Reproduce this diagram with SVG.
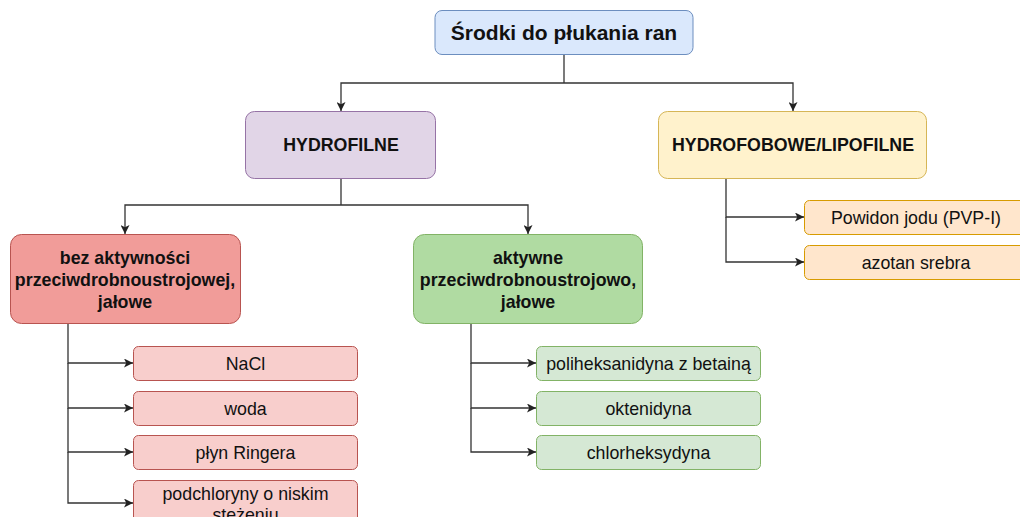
<svg xmlns="http://www.w3.org/2000/svg" width="1020" height="517" viewBox="0 0 1020 517">
  <defs>
    <marker id="arrow" viewBox="0 0 10 10" refX="10" refY="5" markerWidth="9" markerHeight="9" markerUnits="userSpaceOnUse" orient="auto">
      <path d="M0,0 L10,5 L0,10 L2.5,5 Z" fill="#222"/>
    </marker>
    <style>
      text { font-family: "Liberation Sans", Arial, Helvetica, sans-serif; fill: #111; text-anchor: middle; }
      .title { font-size: 21px; font-weight: bold; }
      .head { font-size: 17.8px; font-weight: bold; }
      .item { font-size: 17.8px; }
      .edge { fill: none; stroke: #333; stroke-width: 1.3; }
      .arr { marker-end: url(#arrow); }
      .blue { fill: #dae8fc; stroke: #6c8ebf; }
      .purple { fill: #e1d5e7; stroke: #9673a6; }
      .yellow { fill: #fff2cc; stroke: #d6b656; }
      .red { fill: #f19c99; stroke: #b85450; }
      .green { fill: #b0dba2; stroke: #82b366; }
      .pink { fill: #f8cecc; stroke: #b85450; }
      .lgreen { fill: #d5e8d4; stroke: #82b366; }
      .orange { fill: #ffe6cc; stroke: #d79b00; }
      rect { stroke-width: 1; }
    </style>
  </defs>

  <!-- connectors -->
  <g id="edges">
    <path class="edge" d="M564,54 V83"/>
    <path class="edge arr" d="M564,83 H341 V111"/>
    <path class="edge arr" d="M564,83 H793 V111"/>

    <path class="edge" d="M341,178 V205"/>
    <path class="edge arr" d="M341,205 H125 V234"/>
    <path class="edge arr" d="M341,205 H528 V234"/>

    <path class="edge arr" d="M726,178 V217 H804"/>
    <path class="edge arr" d="M726,217 V262 H804"/>

    <path class="edge arr" d="M68,323 V363 H133"/>
    <path class="edge arr" d="M68,363 V408 H133"/>
    <path class="edge arr" d="M68,408 V452 H133"/>
    <path class="edge arr" d="M68,452 V503 H133"/>

    <path class="edge arr" d="M471,323 V363 H536"/>
    <path class="edge arr" d="M471,363 V408 H536"/>
    <path class="edge arr" d="M471,408 V452 H536"/>
  </g>

  <!-- root -->
  <g id="root">
    <rect class="blue" x="435" y="10.5" width="258" height="44" rx="7"/>
    <text class="title" x="564" y="39.5">Środki do płukania ran</text>
  </g>

  <!-- second level -->
  <g id="hydrofilne">
    <rect class="purple" x="245.5" y="111.5" width="190" height="67" rx="9"/>
    <text class="head" x="341" y="150.5">HYDROFILNE</text>
  </g>
  <g id="hydrofobowe">
    <rect class="yellow" x="658.5" y="111.5" width="268" height="67" rx="9"/>
    <text class="head" x="793" y="150.5">HYDROFOBOWE/LIPOFILNE</text>
  </g>

  <!-- third level -->
  <g id="bez-aktywnosci">
    <rect class="red" x="10.5" y="234.5" width="230" height="89" rx="11"/>
    <text class="head" x="125" y="264">bez aktywności</text>
    <text class="head" x="125" y="286">przeciwdrobnoustrojowej,</text>
    <text class="head" x="125" y="308">jałowe</text>
  </g>
  <g id="aktywne">
    <rect class="green" x="413.5" y="234.5" width="229" height="89" rx="11"/>
    <text class="head" x="528" y="264">aktywne</text>
    <text class="head" x="528" y="286">przeciwdrobnoustrojowo,</text>
    <text class="head" x="528" y="308">jałowe</text>
  </g>

  <!-- lipophilic agents -->
  <g id="powidon">
    <rect class="orange" x="804.5" y="200.5" width="224" height="34" rx="5"/>
    <text class="item" x="916" y="224">Powidon jodu (PVP-I)</text>
  </g>
  <g id="azotan">
    <rect class="orange" x="804.5" y="245.5" width="224" height="34" rx="5"/>
    <text class="item" x="916" y="269">azotan srebra</text>
  </g>

  <!-- agents without antimicrobial activity -->
  <g id="nacl">
    <rect class="pink" x="133.5" y="346.5" width="224" height="34" rx="5"/>
    <text class="item" x="245.5" y="370">NaCl</text>
  </g>
  <g id="woda">
    <rect class="pink" x="133.5" y="391.5" width="224" height="34" rx="5"/>
    <text class="item" x="245.5" y="415">woda</text>
  </g>
  <g id="ringer">
    <rect class="pink" x="133.5" y="435.5" width="224" height="34" rx="5"/>
    <text class="item" x="245.5" y="459">płyn Ringera</text>
  </g>
  <g id="podchloryny">
    <rect class="pink" x="133.5" y="480.5" width="224" height="50" rx="5"/>
    <text class="item" x="245.5" y="499.5">podchloryny o niskim</text>
    <text class="item" x="245.5" y="520.5">stężeniu</text>
  </g>

  <!-- antimicrobial agents -->
  <g id="poliheksanidyna">
    <rect class="lgreen" x="536.5" y="346.5" width="224" height="34" rx="5"/>
    <text class="item" x="648.5" y="370">poliheksanidyna z betainą</text>
  </g>
  <g id="oktenidyna">
    <rect class="lgreen" x="536.5" y="391.5" width="224" height="34" rx="5"/>
    <text class="item" x="648.5" y="415">oktenidyna</text>
  </g>
  <g id="chlorheksydyna">
    <rect class="lgreen" x="536.5" y="435.5" width="224" height="34" rx="5"/>
    <text class="item" x="648.5" y="459">chlorheksydyna</text>
  </g>
</svg>
